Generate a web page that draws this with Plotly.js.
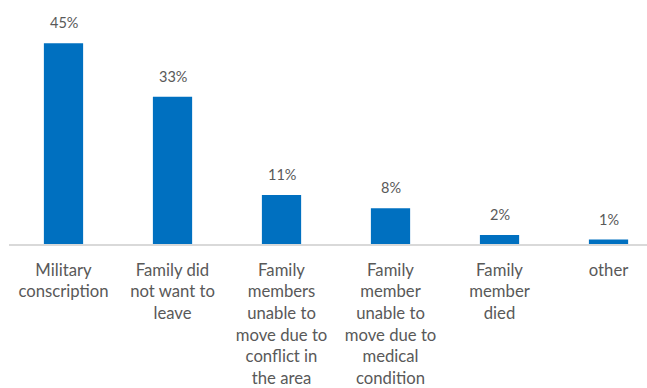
<!DOCTYPE html>
<html><head><meta charset="utf-8">
<script src="https://cdn.plot.ly/plotly-3.0.1.min.js"></script>
<style>html,body{margin:0;padding:0;background:#fff;}#chart{width:647px;height:388px;}</style>
</head><body><div id="chart"></div>
<script>
const categories = [
  "Military<br>conscription",
  "Family did<br>not want to<br>leave",
  "Family<br>members<br>unable to<br>move due to<br>conflict in<br>the area",
  "Family<br>member<br>unable to<br>move due to<br>medical<br>condition",
  "Family<br>member<br>died",
  "other"
];
const values = [45, 33, 11, 8, 2, 1];

const xs = categories.map((c, i) => i);
const trace = {
  type: 'bar', x: xs, y: values,
  marker: {color: '#0070C0'},
  width: 0.36, hoverinfo: 'skip'
};
const annotations = values.map((v, i) => ({
  x: i, y: v, xref: 'x', yref: 'y', text: v + '%', showarrow: false,
  yanchor: 'bottom', yshift: 10,
  font: {family: 'Lato, sans-serif', size: 14.5, color: '#595959'}
}));
const layout = {
  width: 647, height: 388,
  margin: {l: 9, r: 0, t: 21, b: 144},
  paper_bgcolor: '#fff', plot_bgcolor: '#fff',
  showlegend: false,
  xaxis: {
    range: [-0.5, 5.353], tickmode: 'array', tickvals: xs, ticktext: categories,
    showline: true, linecolor: '#D9D9D9', linewidth: 1.5, showgrid: false, zeroline: false,
    ticks: 'outside', ticklen: 10, tickcolor: 'rgba(0,0,0,0)', tickangle: 0,
    tickfont: {family: 'Lato, sans-serif', size: 16.7, color: '#595959'}
  },
  yaxis: {range: [0, 50], visible: false, showgrid: false, zeroline: false},
  annotations: annotations
};
Plotly.newPlot('chart', [trace], layout, {staticPlot: true, displayModeBar: false});
</script></body></html>
